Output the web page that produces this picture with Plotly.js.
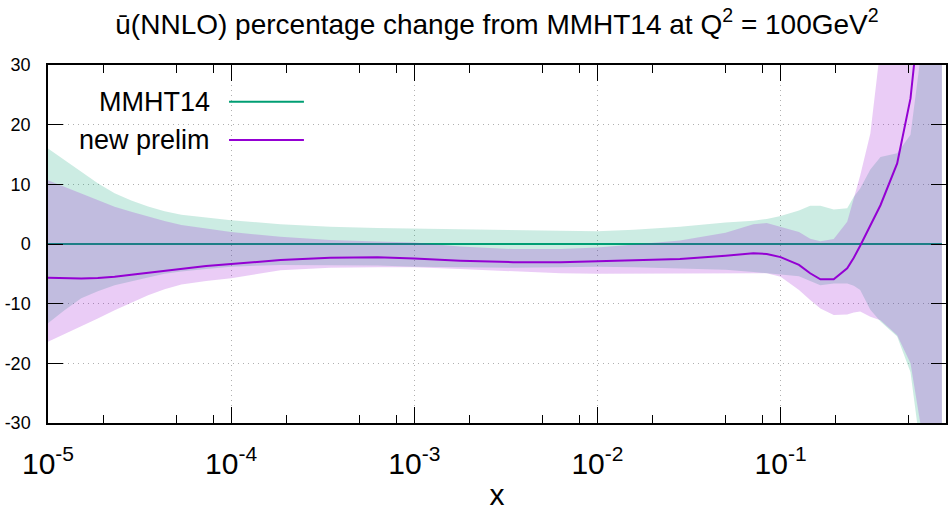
<!DOCTYPE html>
<html>
<head>
<meta charset="utf-8">
<script src="https://cdn.plot.ly/plotly-3.0.1.min.js"></script>
<style>html,body{margin:0;padding:0;background:#fff}</style>
</head>
<body>
<div id="plot" style="width:950px;height:512px"></div>
<script>
// x values
const xVals = [1e-5, 1.23e-5, 1.52e-5, 1.87e-5, 2.31e-5, 2.85e-5, 3.52e-5, 4.33e-5, 5.35e-5,
    7.3e-5, 1e-4, 1.86e-4, 3.47e-4, 6.3e-4,
    1e-3, 1.78e-3, 3.47e-3, 6.3e-3, 1e-2, 1.58e-2, 2.82e-2, 5.0e-2, 7.1e-2, 8.4e-2,
    0.1, 0.126, 0.145, 0.165, 0.195, 0.231, 0.251, 0.272, 0.309, 0.351, 0.433, 0.512,
    0.579, 0.631, 0.76];

// MMHT14 band (percent) and central (zero by definition)
const mmhtUp = [16.0, 14.1, 12.1, 10.2, 8.5, 7.3, 6.3, 5.5, 4.9, 4.4, 4.0, 3.3, 2.9, 2.7,
    2.6, 2.4, 2.25, 2.2, 2.15, 2.4, 2.9, 3.6, 3.9, 4.2, 4.7, 5.6, 6.4, 6.4, 5.8, 6.0, 7.9,
    9.3, 12.5, 14.6, 15.2, 18.3, 31, 50, 100];
const mmhtLo = [-13.3, -11.1, -9.1, -7.9, -6.9, -6.2, -5.6, -5.0, -4.6, -4.2, -3.8, -3.5,
    -3.5, -3.6, -3.8, -3.9, -4.0, -3.9, -3.8, -3.9, -4.1, -4.3, -4.7, -4.9, -5.0, -5.4,
    -6.2, -6.9, -6.6, -6.6, -7.0, -7.7, -11.0, -13.0, -15.5, -21.5, -34, -50, -100];
const mmhtMid = [0, 0, 0, 0, 0, 0, 0, 0, 0, 0, 0, 0, 0, 0, 0, 0, 0, 0, 0, 0, 0, 0, 0, 0,
    0, 0, 0, 0, 0, 0, 0, 0, 0, 0, 0, 0, 0, 0, 0];

// new prelim band and central
const newMid = [-5.64, -5.75, -5.8, -5.7, -5.5, -5.15, -4.8, -4.45, -4.1, -3.7, -3.35,
    -2.7, -2.3, -2.2, -2.45, -2.8, -3.05, -3.05, -2.9, -2.75, -2.5, -1.95, -1.56, -1.67,
    -2.2, -3.5, -4.9, -5.92, -5.92, -4.08, -2.3, -0.28, 3.0, 6.5, 13.5, 24.4, 40, 60, 100];
const newUp = [10.7, 9.6, 8.5, 7.37, 6.25, 5.4, 4.6, 3.85, 3.2, 2.6, 2.0, 1.2, 0.67, 0.4,
    0.25, -0.4, -0.85, -0.85, -0.6, -0.1, 0.6, 1.9, 3.3, 3.5, 2.9, 2.0, 0.9, 0.45, 0.84,
    3.74, 7.66, 11.5, 18.5, 33, 45, 60, 75, 90, 150];
const newLo = [-16.4, -15.1, -13.9, -12.5, -11.1, -9.8, -8.6, -7.6, -6.8, -6.2, -5.75,
    -4.4, -4.0, -3.9, -3.9, -4.2, -4.6, -4.9, -5.0, -5.0, -5.0, -4.9, -4.9, -4.9, -5.5,
    -7.7, -9.4, -10.8, -11.9, -11.8, -11.5, -11.3, -12.2, -12.8, -15.3, -20, -30, -50, -150];

const xTickVals = [1e-5, 1e-4, 1e-3, 1e-2, 1e-1];
const xTickText = ["10<sup>-5</sup>", "10<sup>-4</sup>", "10<sup>-3</sup>",
    "10<sup>-2</sup>", "10<sup>-1</sup>"];
const xMinorVals = [2e-5, 5e-5, 8e-5, 2e-4, 5e-4, 8e-4, 2e-3, 5e-3, 8e-3,
    2e-2, 5e-2, 8e-2, 2e-1, 5e-1];
const yTickVals = [-30, -20, -10, 0, 10, 20, 30];
const yTickText = ["-30", "-20", "-10", "0", "10", "20", "30"];

const seriesNames = ["MMHT14", "new prelim"];
const green = "#009e73";
const purple = "#9400d3";
const font = "Liberation Sans, Arial, sans-serif";

const traces = [
    {x: xVals, y: mmhtLo, mode: "lines", line: {width: 0}, hoverinfo: "skip", showlegend: false},
    {x: xVals, y: mmhtUp, mode: "lines", line: {width: 0}, fill: "tonexty",
        fillcolor: "rgba(0,158,115,0.2)", hoverinfo: "skip", showlegend: false},
    {x: xVals, y: mmhtMid, mode: "lines", line: {color: green, width: 2}, showlegend: false},
    {x: xVals, y: newLo, mode: "lines", line: {width: 0}, hoverinfo: "skip", showlegend: false},
    {x: xVals, y: newUp, mode: "lines", line: {width: 0}, fill: "tonexty",
        fillcolor: "rgba(148,0,211,0.2)", hoverinfo: "skip", showlegend: false},
    {x: xVals, y: newMid, mode: "lines", line: {color: purple, width: 2}, showlegend: false}
];

const legendY = [0.8975, 0.7905];

const layout = {
    width: 950,
    height: 512,
    margin: {l: 48, r: 4, t: 65, b: 89},
    paper_bgcolor: "#fff",
    plot_bgcolor: "#fff",
    font: {family: font, color: "#000"},
    showlegend: false,
    title: {
        text: "ū(NNLO) percentage change from MMHT14 at Q<sup>2</sup> = 100GeV<sup>2</sup>",
        font: {size: 28, family: font, color: "#000"},
        x: 0.5, xref: "paper", xanchor: "center",
        y: 0.953, yanchor: "middle"
    },
    xaxis: {
        type: "log",
        range: [-5, Math.log10(0.8)],
        tickmode: "array",
        tickvals: xTickVals,
        ticktext: xTickText,
        ticks: "inside",
        ticklen: 16,
        tickcolor: "#000",
        tickfont: {size: 30},
        ticklabelstandoff: 13,
        showline: true,
        linecolor: "#000",
        linewidth: 1.5,
        mirror: "ticks",
        showgrid: true,
        gridcolor: "#b0b0b0",
        griddash: "1px,4px",
        gridwidth: 1,
        zeroline: false,
        minor: {
            tickmode: "array",
            tickvals: xMinorVals,
            ticks: "inside",
            ticklen: 8,
            tickcolor: "#000",
            showgrid: false
        },
        title: {text: "x", font: {size: 30}, standoff: 5}
    },
    yaxis: {
        range: [-30, 30],
        tickmode: "array",
        tickvals: yTickVals,
        ticktext: yTickText,
        ticks: "inside",
        ticklen: 15,
        tickcolor: "#000",
        tickfont: {size: 18},
        ticklabelstandoff: 12,
        showline: true,
        linecolor: "#000",
        linewidth: 1.5,
        mirror: "ticks",
        showgrid: true,
        gridcolor: "#b0b0b0",
        griddash: "1px,4px",
        gridwidth: 1,
        zeroline: false
    },
    shapes: [
        // key area hides the grid behind it
        {type: "rect", xref: "paper", yref: "paper", x0: 0, x1: 0.303, y0: 0.725, y1: 1,
            fillcolor: "#fff", line: {width: 0}, layer: "between"},
        {type: "line", xref: "paper", yref: "paper", x0: 0.2016, x1: 0.285,
            y0: legendY[0], y1: legendY[0], line: {color: green, width: 2}},
        {type: "line", xref: "paper", yref: "paper", x0: 0.2016, x1: 0.285,
            y0: legendY[1], y1: legendY[1], line: {color: purple, width: 2}}
    ],
    annotations: seriesNames.map((name, i) => ({
        text: name, xref: "paper", yref: "paper", x: 0.1826, y: legendY[i],
        xanchor: "right", yanchor: "middle", showarrow: false,
        font: {size: 27, color: "#000"}
    }))
};

Plotly.newPlot("plot", traces, layout, {displayModeBar: false});
</script>
</body>
</html>
